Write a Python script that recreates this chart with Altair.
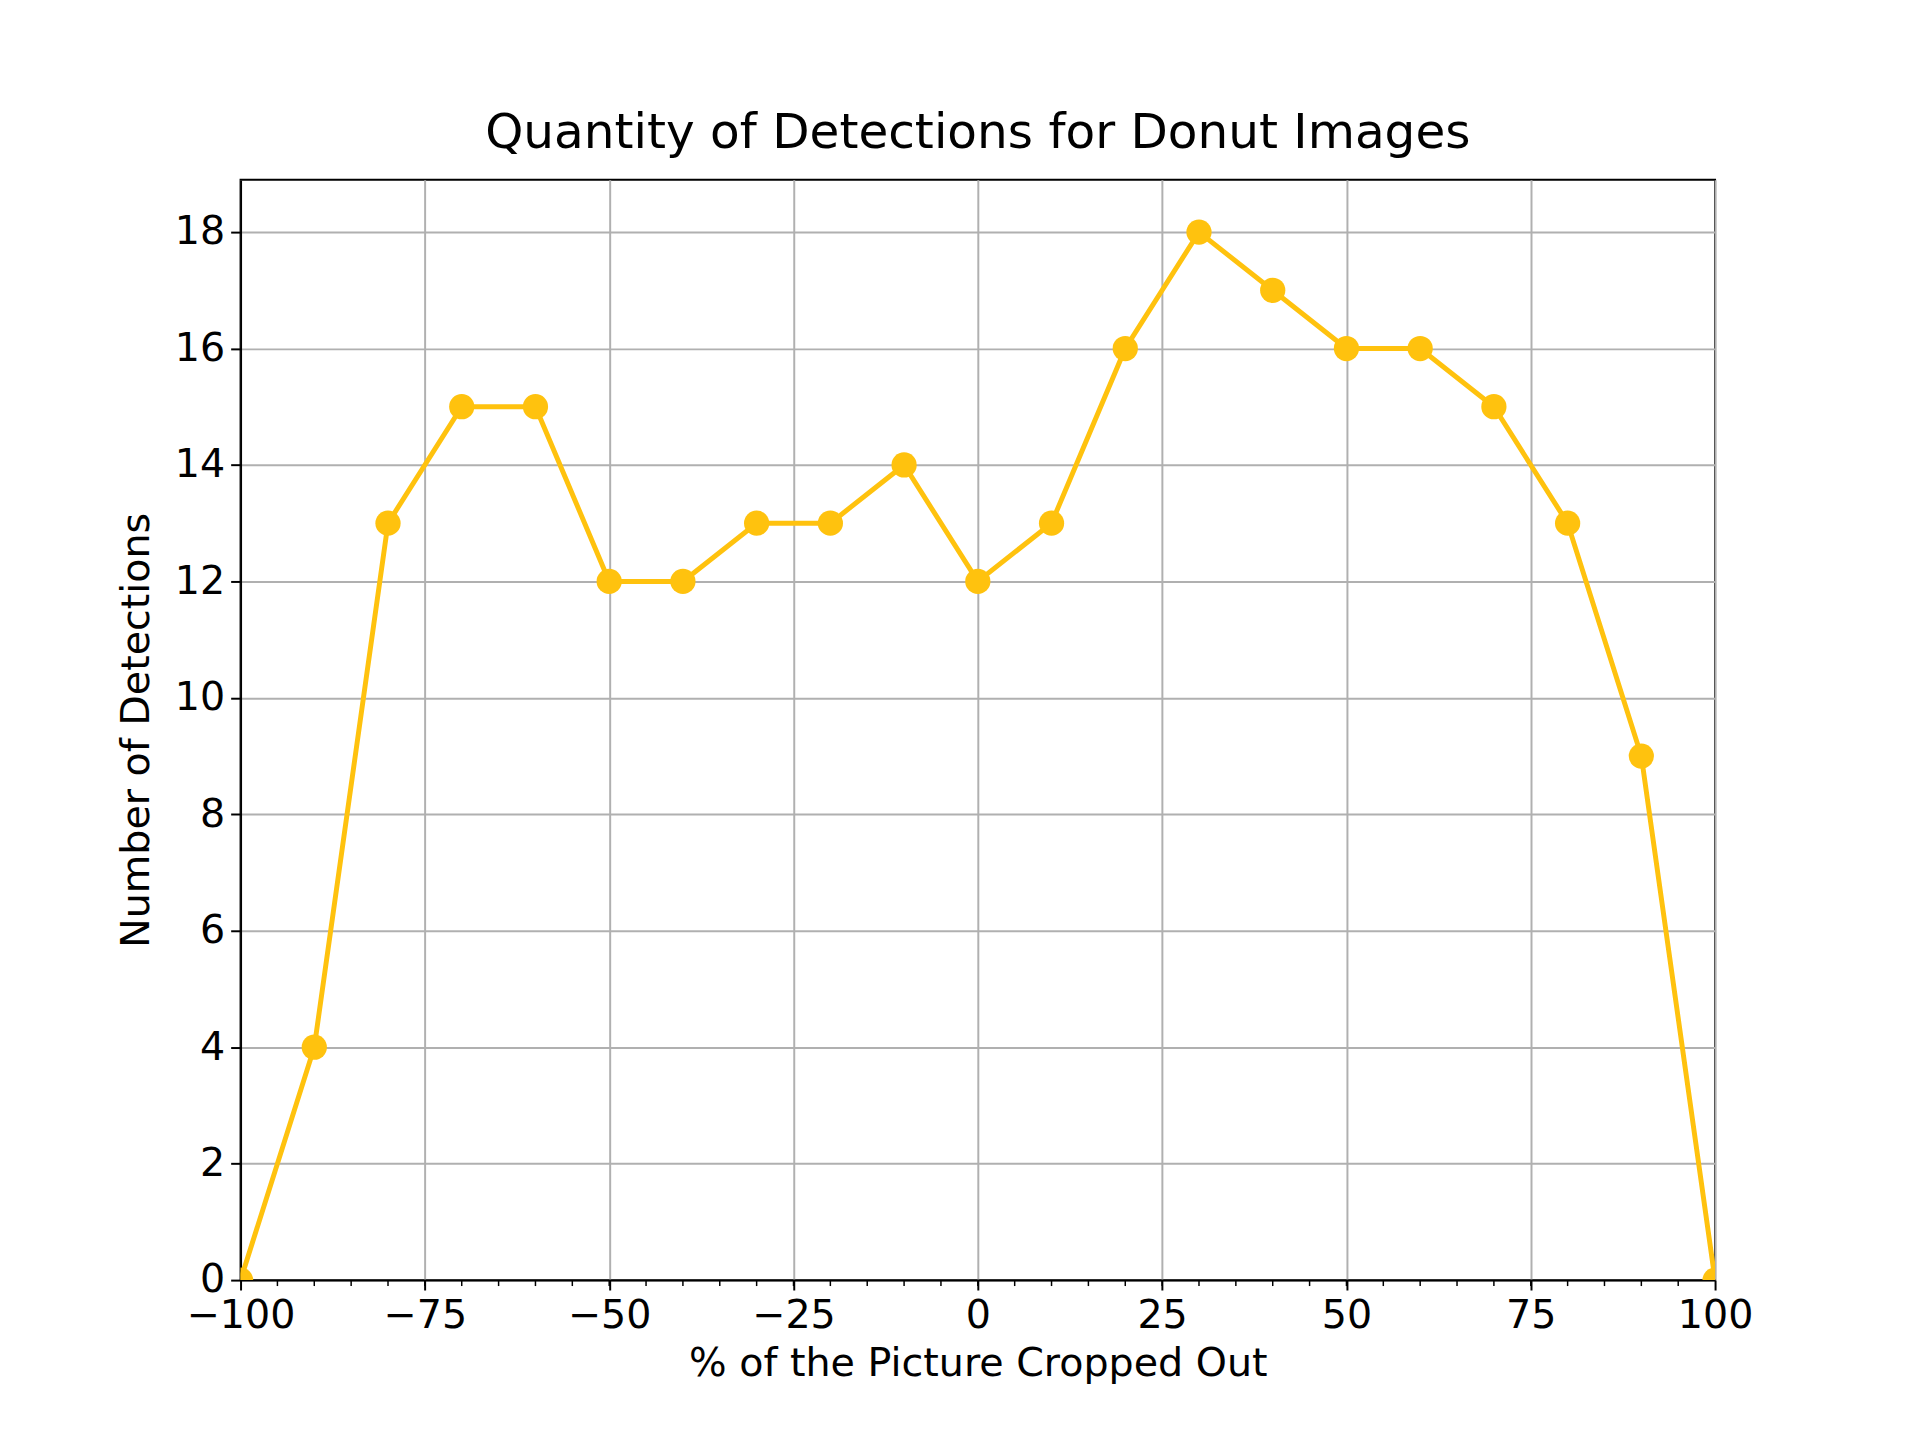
import altair as alt
import pandas as pd

crop_pct = list(range(-100, 101, 10))
detections = [0, 4, 13, 15, 15, 12, 12, 13, 13, 14, 12, 13, 16, 18, 17, 16, 16, 15, 13, 9, 0]
minor_ticks = list(range(-95, 100, 5))

df = pd.DataFrame({"crop": crop_pct, "count": detections})

font = "DejaVu Sans"
gold = "#FFC20E"
W, H = 1490, 1112

xscale = alt.Scale(domain=[-100, 100], nice=False)

base = alt.Chart(df).encode(
    x=alt.X("crop:Q", title="% of the Picture Cropped Out", scale=xscale,
            axis=alt.Axis(values=[-100, -75, -50, -25, 0, 25, 50, 75, 100], labelFlush=False,
                          labelExpr="replace(format(datum.value, 'd'), '-', '\u2212')")),
    y=alt.Y("count:Q", title="Number of Detections",
            scale=alt.Scale(domain=[0, 18.9], nice=False),
            axis=alt.Axis(values=list(range(0, 19, 2)), labelFlush=False)),
)

line = base.mark_line(color=gold, strokeWidth=5, clip=True)
pts = base.mark_circle(color=gold, size=650, opacity=1, clip=True)

minor = alt.Chart(pd.DataFrame({"m": minor_ticks})).mark_rule(
    color="black", strokeWidth=1.5
).encode(x=alt.X("m:Q", scale=xscale), y=alt.value(H), y2=alt.value(H + 6))

chart = alt.layer(line, pts, minor).properties(
    width=W, height=H,
    title=alt.TitleParams("Quantity of Detections for Donut Images", font=font,
                          fontSize=49, fontWeight="normal", offset=22),
    padding={"left": 110, "top": 95, "right": 160, "bottom": 40},
).configure_axis(
    grid=True, gridColor="#b0b0b0", gridWidth=2,
    domainColor="black", domainWidth=2, tickColor="black", tickWidth=2, tickSize=10,
    labelFont=font, labelFontSize=40, labelColor="black", labelPadding=6,
    titleFont=font, titleFontSize=40, titleFontWeight="normal", titleColor="black",
).configure_axisY(titlePadding=18).configure_axisX(titlePadding=8).configure_view(
    stroke="black", strokeWidth=2
)

chart.save("out.html", embed_options={"renderer": "svg", "actions": False})
